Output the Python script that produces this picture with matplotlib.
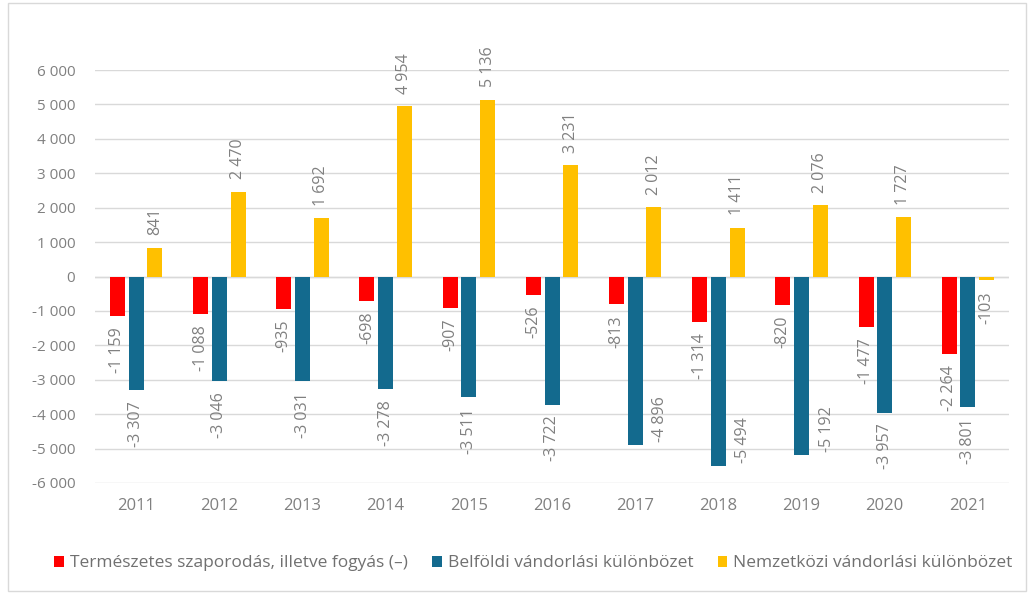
import numpy as np
import matplotlib
matplotlib.use('Agg')
import matplotlib.pyplot as plt
from matplotlib.patches import Rectangle
from matplotlib.ticker import FuncFormatter

plt.rcParams['font.family'] = ['Open Sans', 'DejaVu Sans']

years = ['2011', '2012', '2013', '2014', '2015', '2016', '2017', '2018', '2019', '2020', '2021']
termeszetes = [-1159, -1088, -935, -698, -907, -526, -813, -1314, -820, -1477, -2264]
belfoldi = [-3307, -3046, -3031, -3278, -3511, -3722, -4896, -5494, -5192, -3957, -3801]
nemzetkozi = [841, 2470, 1692, 4954, 5136, 3231, 2012, 1411, 2076, 1727, -103]

series_names = ['Természetes szaporodás, illetve fogyás (\u2013)',
                'Belföldi vándorlási különbözet',
                'Nemzetközi vándorlási különbözet']
colors = ['#ff0000', '#136a8e', '#ffc000']
text_col = '#808080'
# labels that Excel moved beside the bar (series index -> year indices)
side_labels = {1: [6, 7, 8]}


def fmt(v, pos=None):
    s = f'{abs(int(v)):,}'.replace(',', ' ')
    return ('-' if v < 0 else '') + s


fig = plt.figure(figsize=(10.28, 5.94), dpi=100)
ax = fig.add_axes([0.092, 0.187, 0.890, 0.695])

x = np.arange(len(years))
w = 0.18
step = 0.225
for k, (vals, c, name) in enumerate(zip([termeszetes, belfoldi, nemzetkozi], colors, series_names)):
    pos = x + (k - 1) * step
    bars = ax.bar(pos, vals, width=w, color=c, label=name, zorder=3)
    for i, (b, v) in enumerate(zip(bars, vals)):
        xc = b.get_x() + b.get_width() / 2
        if i in side_labels.get(k, []):
            off, va = (18, 2), 'bottom'
        elif v >= 0:
            off, va = (0, 9), 'bottom'
        else:
            off, va = (0, -8), 'top'
        ax.annotate(fmt(v), (xc, v), xytext=off, textcoords='offset points',
                    rotation=90, ha='center', va=va,
                    fontsize=11.5, color=text_col, annotation_clip=False)

ax.set_ylim(-6000, 6000)
ax.set_xlim(-0.5, len(years) - 0.5)
ax.set_yticks(np.arange(-6000, 6001, 1000))
ax.yaxis.set_major_formatter(FuncFormatter(fmt))
ax.set_xticks(x)
ax.set_xticklabels(years)
ax.grid(axis='y', color='#d9d9d9', linewidth=1, zorder=0)
ax.axhline(0, color='#d9d9d9', linewidth=1, zorder=1)
for s in ax.spines.values():
    s.set_visible(False)
ax.tick_params(axis='both', length=0, labelsize=11, colors=text_col, pad=14)
ax.tick_params(axis='x', labelsize=12, pad=11)

fig.legend(loc='lower center', bbox_to_anchor=(0.519, 0.012), ncol=3, frameon=False,
           fontsize=12.5, handlelength=0.55, handleheight=0.6, handletextpad=0.35,
           columnspacing=1.4, labelcolor='#707070')

fig.patches.append(Rectangle((0.008, 0.005), 0.99, 0.99, transform=fig.transFigure,
                             fill=False, edgecolor='#d9d9d9', linewidth=1))

fig.savefig('out.png', dpi=100)
